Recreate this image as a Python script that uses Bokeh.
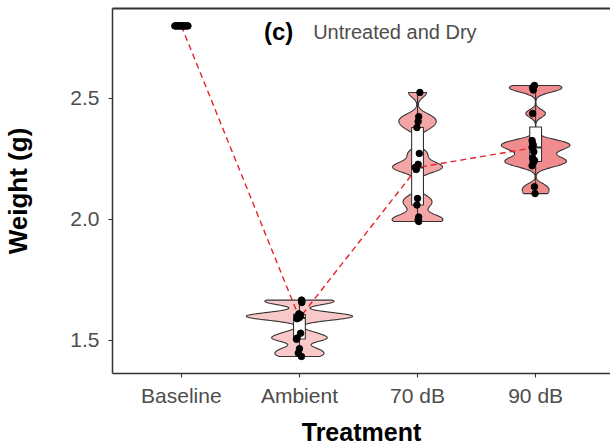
import numpy as np
from bokeh.plotting import figure
from bokeh.models import Range1d, FixedTicker, LinearAxis, Label
from bokeh.embed import file_html
from bokeh.resources import INLINE

# ---------------- data ----------------
categories = ["Baseline", "Ambient", "70 dB", "90 dB"]

baseline_w = [2.80, 2.80, 2.80, 2.80, 2.80, 2.80, 2.80, 2.80, 2.80, 2.80, 2.80, 2.80]
ambient_w = [1.434, 1.448, 1.466, 1.505, 1.510, 1.530, 1.590, 1.595, 1.600,
             1.605, 1.610, 1.657, 1.662, 1.667]
db70_w = [1.992, 1.998, 2.010, 2.060, 2.087, 2.207, 2.215, 2.228, 2.273,
          2.380, 2.405, 2.425, 2.525]
db90_w = [2.107, 2.135, 2.222, 2.235, 2.244, 2.255, 2.280, 2.298, 2.306,
          2.314, 2.326, 2.438, 2.535, 2.545, 2.554]

# horizontal jitter of each point (category units)
baseline_jit = [-0.055, -0.048, -0.035, -0.027, -0.012, -0.004, 0.006, 0.015,
                0.024, 0.033, 0.046, 0.056]
ambient_jit = [0.017, -0.010, 0.000, -0.025, -0.020, 0.010, -0.020, 0.000,
               -0.015, 0.010, -0.005, 0.020, 0.020, 0.018]
db70_jit = [0.010, 0.005, 0.010, -0.005, 0.000, -0.010, -0.020, 0.005, 0.015,
            -0.005, 0.005, 0.010, 0.020]
db90_jit = [-0.005, -0.010, -0.030, -0.020, -0.010, -0.025, -0.015, -0.030,
            -0.020, -0.025, -0.030, -0.025, -0.020, -0.025, -0.010]

groups = [baseline_w, ambient_w, db70_w, db90_w]
jitters = [baseline_jit, ambient_jit, db70_jit, db90_jit]
violin_fills = [None, "#F9C8C8", "#F4A5A6", "#F08C8D"]
bandwidths = [None, 0.014, 0.020, 0.016]

# ---------------- figure ----------------
FONT = "Liberation Sans"
p = figure(width=610, height=448, output_backend="svg", toolbar_location=None,
           x_range=Range1d(0.417, 4.634), y_range=Range1d(1.3636, 2.8719),
           min_border_left=111, min_border_right=0, min_border_top=8,
           min_border_bottom=75)
p.xgrid.visible = False
p.ygrid.visible = False
p.outline_line_color = None
p.background_fill_color = "white"
p.border_fill_color = "white"

# violins (gaussian KDE, trimmed, area-scaled)
centers = [1, 2, 3, 4]
profiles = []
for g, bw in zip(groups, bandwidths):
    if bw is None:
        profiles.append(None)
        continue
    arr = np.array(g)
    yy = np.linspace(arr.min(), arr.max(), 400)
    d = np.exp(-0.5 * ((yy[:, None] - arr[None, :]) / bw) ** 2).sum(axis=1)
    d = d / (len(arr) * bw * np.sqrt(2 * np.pi))
    profiles.append((yy, d))
dmax = max(pr[1].max() for pr in profiles if pr is not None)
for c, pr, col in zip(centers, profiles, violin_fills):
    if pr is None:
        continue
    yy, d = pr
    w = 0.45 * d / dmax
    xs = np.concatenate([c - w, (c + w)[::-1]])
    ys = np.concatenate([yy, yy[::-1]])
    p.patch(xs, ys, fill_color=col, line_color="#333333", line_width=1.1)

# boxplots
medians = []
for c, g in zip(centers, groups):
    arr = np.array(g)
    q1, med, q3 = np.percentile(arr, [25, 50, 75])
    iqr = q3 - q1
    lo = arr[arr >= q1 - 1.5 * iqr].min()
    hi = arr[arr <= q3 + 1.5 * iqr].max()
    medians.append(med)
    p.segment(x0=[c, c], y0=[lo, q3], x1=[c, c], y1=[q1, hi],
              line_color="#333333", line_width=1.1)
    p.quad(left=c - 0.05, right=c + 0.05, bottom=q1, top=q3,
           fill_color="white", line_color="#333333", line_width=1.1)
    p.segment(x0=c - 0.05, y0=med, x1=c + 0.05, y1=med,
              line_color="#333333", line_width=2)

# median connecting line
p.line(centers, medians, line_color="#E8232B", line_dash="6 4", line_width=1.4)

# jittered points
for c, g, j in zip(centers, groups, jitters):
    p.scatter([c + o for o in j], g, size=6.5, color="black")

# axes
p.xaxis.ticker = FixedTicker(ticks=centers)
p.xaxis.major_label_overrides = {i + 1: lab for i, lab in enumerate(categories)}
p.yaxis.ticker = FixedTicker(ticks=[1.5, 2.0, 2.5])
p.yaxis.major_label_overrides = {1.5: "1.5", 2.0: "2.0", 2.5: "2.5"}
for ax in (p.xaxis[0], p.yaxis[0]):
    ax.axis_line_color = "#333333"
    ax.axis_line_width = 1.5
    ax.major_tick_line_color = "#333333"
    ax.major_tick_line_width = 1.1
    ax.major_tick_out = 4
    ax.major_tick_in = 0
    ax.minor_tick_line_color = None
    ax.major_label_text_font = FONT
    ax.major_label_text_font_size = "21px"
    ax.major_label_text_color = "#4D4D4D"
    ax.axis_label_text_font = FONT
    ax.axis_label_text_font_style = "bold"
    ax.axis_label_text_color = "black"
p.xaxis.axis_label = "Treatment"
p.xaxis.axis_label_text_font_size = "25px"
p.xaxis.axis_label_text_line_height = 0.8
p.xaxis.major_label_standoff = 6
p.xaxis.axis_label_standoff = 8
p.yaxis.axis_label = "Weight (g)"
p.yaxis.axis_label_text_font_size = "26px"
p.yaxis.axis_label_text_line_height = 0.8
p.yaxis.major_label_standoff = 9
p.yaxis.axis_label_standoff = 34

top_ax = LinearAxis(ticker=FixedTicker(ticks=[]), axis_line_color="#333333",
                    axis_line_width=2, major_tick_out=0, major_tick_in=0,
                    minor_tick_out=0, minor_tick_in=0,
                    major_tick_line_color=None, minor_tick_line_color=None,
                    major_label_text_font_size="0px", major_label_standoff=0)
p.add_layout(top_ax, "above")

# panel tag and title
p.add_layout(Label(x=1.70, y=2.7765, text="(c)", text_font=FONT,
                   text_font_style="bold", text_font_size="24px",
                   text_color="black", text_baseline="alphabetic"))
p.add_layout(Label(x=2.116, y=2.7765, text="Untreated and Dry", text_font=FONT,
                   text_font_size="20px", text_color="#4D4D4D",
                   text_baseline="alphabetic"))

open("out.html", "w").write(file_html(p, INLINE))
